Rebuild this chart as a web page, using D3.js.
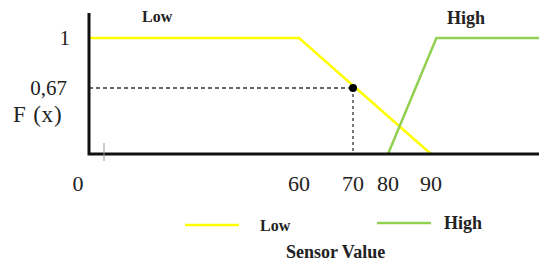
<!DOCTYPE html>
<html>
<head>
<meta charset="utf-8">
<script src="https://cdn.jsdelivr.net/npm/d3@7"></script>
<style>
  body { margin: 0; background: #fff; }
  text { font-family: "Liberation Serif", "DejaVu Serif", serif; fill: #222; }
</style>
</head>
<body>
<script>
// membership functions (sensor value, F(x))
var lowX = [0, 60, 90];
var lowY = [1, 1, 0];
var highX = [80, 90.5, 100];
var highY = [0, 1, 1];

var xTicks = [0, 60, 70, 80, 90];
var yTicks = [1, 0.67];
var yTickLabels = ["1", "0,67"];

var pointX = 70;
var pointY = 0.67;

var seriesNames = ["Low", "High"];
var seriesColors = ["#ffff00", "#92d050"];

function init(){
    var w = 539, h = 264;

    // the figure is hand drawn, so the axes are piecewise linear
    var xScale = d3.scaleLinear()
                    .domain([0, 60, 70, 80, 90, 100])
                    .range([89, 299, 353, 388, 431, 539]);

    var yScale = d3.scaleLinear()
                    .domain([0, 0.67, 1])
                    .range([154, 88, 38]);

    var svg = d3.select("body")
                .append("svg")
                .attr("width", w)
                .attr("height", h);

    var line = d3.line()
                .x(function(d){ return xScale(d[0]); })
                .y(function(d){ return yScale(d[1]); });

    // dashed guides to the point
    svg.append("line")
        .attr("x1", xScale(0)).attr("x2", xScale(pointX))
        .attr("y1", yScale(pointY)).attr("y2", yScale(pointY))
        .attr("stroke", "#333").attr("stroke-width", 1.3)
        .attr("stroke-dasharray", "4,3");
    svg.append("line")
        .attr("x1", xScale(pointX)).attr("x2", xScale(pointX))
        .attr("y1", yScale(pointY)).attr("y2", yScale(0))
        .attr("stroke", "#333").attr("stroke-width", 1.3)
        .attr("stroke-dasharray", "3,3");

    svg.append("path")
        .datum(d3.zip(lowX, lowY))
        .attr("d", line)
        .attr("fill", "none")
        .attr("stroke", seriesColors[0])
        .attr("stroke-width", 2.5);

    svg.append("path")
        .datum(d3.zip(highX, highY))
        .attr("d", line)
        .attr("fill", "none")
        .attr("stroke", seriesColors[1])
        .attr("stroke-width", 2.5);

    svg.append("circle")
        .attr("cx", xScale(pointX))
        .attr("cy", yScale(pointY))
        .attr("r", 4)
        .attr("fill", "#000");

    // axes
    svg.append("path")
        .attr("d", "M" + xScale(0) + "," + 13 + "V" + yScale(0) + "H" + w)
        .attr("fill", "none")
        .attr("stroke", "#111")
        .attr("stroke-width", 3);

    // stray small tick near origin
    svg.append("line")
        .attr("x1", xScale(0) + 15).attr("x2", xScale(0) + 15)
        .attr("y1", yScale(0) - 11).attr("y2", yScale(0) + 7)
        .attr("stroke", "#999").attr("stroke-width", 1);

    svg.selectAll("text.xtick")
        .data(xTicks)
        .enter()
        .append("text")
        .attr("class", "xtick")
        .attr("x", function(d){ return xScale(d) + (d === 0 ? -11 : 0); })
        .attr("y", 191)
        .attr("text-anchor", "middle")
        .attr("font-size", 22)
        .text(function(d){ return d; });

    svg.selectAll("text.ytick")
        .data(yTicks)
        .enter()
        .append("text")
        .attr("class", "ytick")
        .attr("x", function(d){ return d === 1 ? 70 : 67; })
        .attr("y", function(d){ return yScale(d) + 7; })
        .attr("text-anchor", "end")
        .attr("font-size", 21)
        .text(function(d, i){ return yTickLabels[i]; });

    svg.append("text")
        .attr("x", 13).attr("y", 122)
        .attr("font-size", 23)
        .attr("letter-spacing", 0.8)
        .text("F (x)");

    // series names above the curves
    svg.append("text")
        .attr("x", 142).attr("y", 22)
        .attr("font-size", 16).attr("font-weight", "bold")
        .text(seriesNames[0]);
    svg.append("text")
        .attr("x", 447).attr("y", 24)
        .attr("font-size", 18).attr("font-weight", "bold")
        .text(seriesNames[1]);

    // legend
    var legendX = [185, 377];
    var legendY = [225, 223];
    seriesNames.forEach(function(name, i){
        svg.append("line")
            .attr("x1", legendX[i]).attr("x2", legendX[i] + 54)
            .attr("y1", legendY[i]).attr("y2", legendY[i])
            .attr("stroke", seriesColors[i]).attr("stroke-width", 2.5);
        svg.append("text")
            .attr("x", legendX[i] + (i === 0 ? 75 : 67))
            .attr("y", legendY[i] + 6)
            .attr("font-size", i === 0 ? 16 : 18).attr("font-weight", "bold")
            .text(name);
    });

    svg.append("text")
        .attr("x", 286).attr("y", 258)
        .attr("font-size", 18).attr("font-weight", "bold")
        .text("Sensor Value");
}

window.onload = init;
</script>
</body>
</html>
